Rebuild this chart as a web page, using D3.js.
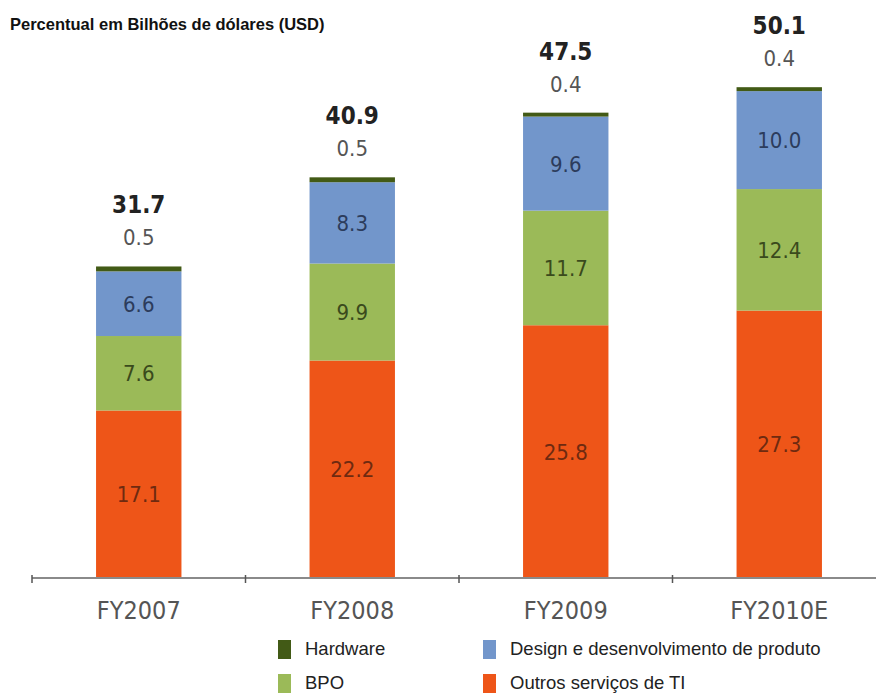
<!DOCTYPE html>
<html><head><meta charset="utf-8">
<script src="https://cdn.jsdelivr.net/npm/d3@7"></script>
<style>body{margin:0;background:#fff;}svg{display:block;}</style>
</head><body>
<script>
const categories = ["FY2007", "FY2008", "FY2009", "FY2010E"];
const outros   = [17.1, 22.2, 25.8, 27.3];
const bpo      = [7.6, 9.9, 11.7, 12.4];
const design   = [6.6, 8.3, 9.6, 10.0];
const hardware = [0.5, 0.5, 0.4, 0.4];
const totals   = ["31.7", "40.9", "47.5", "50.1"];
const seriesNames = ["Outros serviços de TI", "BPO", "Design e desenvolvimento de produto", "Hardware"];
const seriesKeys = ["outros", "bpo", "design", "hardware"];
const colors = {outros: "#ee5518", bpo: "#9bba58", design: "#7296cb", hardware: "#425a16"};
const textColors = {outros: "#6e2a10", bpo: "#3a4a1c", design: "#2c3c5c", hardware: "#555"};

const W = 876, H = 693;
const svg = d3.select("body").append("svg").attr("width", W).attr("height", H);

const rows = categories.map((c, i) => ({cat: c, outros: outros[i], bpo: bpo[i], design: design[i], hardware: hardware[i], total: totals[i]}));
const stack = d3.stack().keys(seriesKeys)(rows);

const x = d3.scaleBand().domain(categories).range([32, 886]).paddingInner(0.6).paddingOuter(0.3);
const y = d3.scaleLinear().domain([0, 59]).range([578, 0]);

// title
svg.append("text").attr("x", 10).attr("y", 30)
  .attr("font-family", "Liberation Sans, Arial, sans-serif").attr("font-weight", "bold")
  .attr("font-size", 16.5).attr("fill", "#111").text("Percentual em Bilhões de dólares (USD)");

// bars
const layers = svg.append("g").selectAll("g").data(stack).join("g").attr("fill", d => colors[d.key]);
layers.selectAll("rect").data(d => d).join("rect")
  .attr("x", d => x(d.data.cat)).attr("width", x.bandwidth())
  .attr("y", d => y(d[1])).attr("height", d => y(d[0]) - y(d[1]));

const fontC = "DejaVu Sans Condensed, DejaVu Sans, sans-serif";
// inner labels
stack.filter(s => s.key !== "hardware").forEach(s => {
  svg.append("g").selectAll("text").data(s).join("text")
    .attr("x", d => x(d.data.cat) + x.bandwidth() / 2)
    .attr("y", d => (y(d[0]) + y(d[1])) / 2)
    .attr("dy", "0.36em").attr("text-anchor", "middle")
    .attr("font-family", fontC).attr("font-size", 22)
    .attr("fill", textColors[s.key]).text(d => d.data[s.key].toFixed(1));
});
// hardware labels above
const topLayer = stack[stack.length - 1];
svg.append("g").selectAll("text").data(topLayer).join("text")
  .attr("x", d => x(d.data.cat) + x.bandwidth() / 2)
  .attr("y", d => y(d[1]) - 21).attr("text-anchor", "middle")
  .attr("font-family", fontC).attr("font-size", 22).attr("fill", "#555")
  .text(d => d.data.hardware.toFixed(1));
svg.append("g").selectAll("text").data(topLayer).join("text")
  .attr("x", d => x(d.data.cat) + x.bandwidth() / 2)
  .attr("y", d => y(d[1]) - 53).attr("text-anchor", "middle")
  .attr("font-family", fontC).attr("font-size", 24).attr("font-weight", "bold").attr("fill", "#222")
  .text(d => d.data.total);

// axis
const xAxisScale = d3.scalePoint().domain(d3.range(5)).range([32, 886]);
const axisG = svg.append("g");
axisG.append("line").attr("x1", 32).attr("x2", W).attr("y1", 578).attr("y2", 578)
  .attr("stroke", "#8a8a8a").attr("stroke-width", 2);
axisG.selectAll("line.tick").data(d3.range(4)).join("line").attr("class", "tick")
  .attr("x1", d => xAxisScale(d)).attr("x2", d => xAxisScale(d))
  .attr("y1", 575).attr("y2", 583).attr("stroke", "#555").attr("stroke-width", 1.5);
axisG.selectAll("text").data(categories).join("text")
  .attr("x", d => x(d) + x.bandwidth() / 2).attr("y", 619)
  .attr("text-anchor", "middle").attr("font-family", fontC).attr("font-size", 25)
  .attr("fill", "#555").text(d => d);

// legend
const legendItems = [
  {key: "hardware", label: "Hardware", lx: 278, ly: 640},
  {key: "design", label: "Design e desenvolvimento de produto", lx: 483, ly: 640},
  {key: "bpo", label: "BPO", lx: 278, ly: 674},
  {key: "outros", label: "Outros serviços de TI", lx: 483, ly: 674}
];
const lg = svg.append("g").selectAll("g").data(legendItems).join("g")
  .attr("transform", d => `translate(${d.lx},${d.ly})`);
lg.append("rect").attr("width", 13).attr("height", 19).attr("fill", d => colors[d.key]);
lg.append("text").attr("x", 27).attr("y", 15)
  .attr("font-family", "Liberation Sans, Arial, sans-serif").attr("font-size", 18.5)
  .attr("fill", "#222").text(d => d.label);
</script>
</body></html>
